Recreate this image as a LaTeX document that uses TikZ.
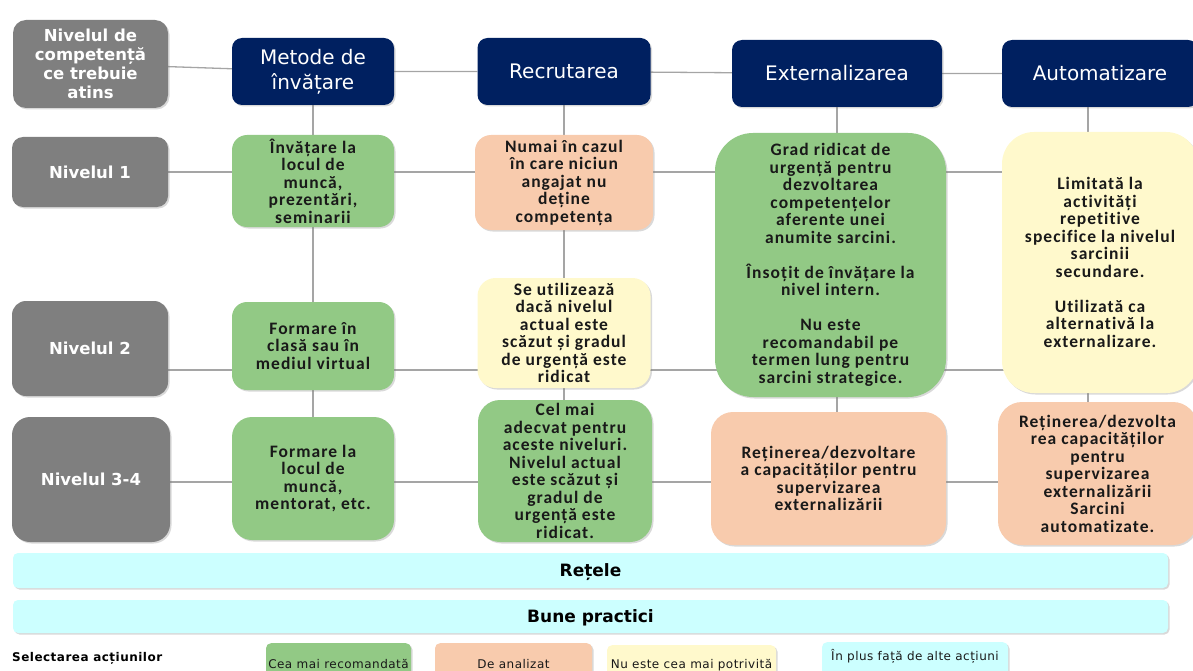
\documentclass[tikz,border=0pt]{standalone}
\usepackage{fontspec}
\setmainfont{DejaVu Sans}
\newfontfamily\cellfont[LetterSpace=6,Ligatures={NoCommon}]{Carlito}
\newfontfamily\legendfont[LetterSpace=4]{DejaVu Sans}
\usetikzlibrary{backgrounds,shadows}

\definecolor{lvlgray}{RGB}{127,127,127}
\definecolor{navy}{RGB}{0,32,96}
\definecolor{recgreen}{RGB}{146,201,133}
\definecolor{analsalmon}{RGB}{248,203,173}
\definecolor{weakyellow}{RGB}{255,249,204}
\definecolor{extracyan}{RGB}{204,255,255}
\definecolor{gridline}{RGB}{165,165,165}

\begin{document}
\begin{tikzpicture}[x=1pt,y=-1pt,
    box/.style={draw=none,align=center,inner sep=0pt,
      drop shadow={opacity=0.3,shadow xshift=1.5pt,shadow yshift=-1.5pt}},
    level node/.style={box,fill=lvlgray,text=white,font=\fontsize{16.5}{19}\selectfont\bfseries},
    head node/.style={box,fill=navy,text=white,rounded corners=10pt,minimum height=67pt,
      font=\fontsize{20}{25}\selectfont},
    cell node/.style={box,text=black!90,font=\cellfont\fontsize{17.5}{17.5}\selectfont\bfseries},
    green cell/.style={cell node,fill=recgreen},
    salmon cell/.style={cell node,fill=analsalmon},
    yellow cell/.style={cell node,fill=weakyellow},
    bar node/.style={box,fill=extracyan,rounded corners=5pt,minimum width=1155pt,text depth=0pt,
      font=\fontsize{17}{20}\selectfont\bfseries},
    legend node/.style={box,anchor=north,rounded corners=5pt,text=black!90,
      font=\legendfont\fontsize{12}{13}\selectfont},
    grid line/.style={draw=gridline,line width=1.3pt}]
  \useasboundingbox (0,0) rectangle (1193,671);

  % levels
  \node[level node,rounded corners=13pt,minimum width=155pt,minimum height=88pt] (lvl0) at (90.5,64) {Nivelul de\\competență\\ce trebuie\\atins};
  \node[level node,rounded corners=11pt,minimum width=156pt,minimum height=70pt] (lvl1) at (90,172) {Nivelul 1};
  \node[level node,rounded corners=14pt,minimum width=156pt,minimum height=95pt] (lvl2) at (90,348.5) {Nivelul 2};
  \node[level node,rounded corners=18pt,minimum width=158pt,minimum height=125pt] (lvl3) at (91,479.5) {Nivelul 3-4};

  % headers
  \node[head node,minimum width=162pt] (hMet) at (313,71.5) {Metode de\\învățare};
  \node[head node,minimum width=173pt] (hRec) at (564,71.5) {Recrutarea};
  \node[head node,minimum width=210pt] (hExt) at (837,73.5) {Externalizarea};
  \node[head node,minimum width=196pt] (hAut) at (1100,73.5) {Automatizare};

  % cells
  \node[green cell,rounded corners=15pt,minimum width=162pt,minimum height=92pt] (m1) at (313,181) {Învățare la\\locul de\\muncă,\\prezentări,\\seminarii};
  \node[salmon cell,rounded corners=16pt,minimum width=178pt,minimum height=95pt] (r1) at (564,182.5) {Numai în cazul\\în care niciun\\angajat nu\\deține\\competența};
  \node[green cell,rounded corners=38pt,minimum width=231pt,minimum height=264pt] (e12) at (830.5,265) {Grad ridicat de\\urgență pentru\\dezvoltarea\\competențelor\\aferente unei\\anumite sarcini.\\[17.5pt]Însoțit de învățare la\\nivel intern.\\[17.5pt]Nu este\\recomandabil pe\\termen lung pentru\\sarcini strategice.};
  \node[yellow cell,rounded corners=32pt,minimum width=196pt,minimum height=261pt] (a12) at (1100,262.5) {Limitată la\\activități\\repetitive\\specifice la nivelul\\sarcinii\\secundare.\\[17.5pt]Utilizată ca\\alternativă la\\externalizare.};
  \node[green cell,rounded corners=15pt,minimum width=162pt,minimum height=88pt] (m2) at (313,346) {Formare în\\clasă sau în\\mediul virtual};
  \node[yellow cell,rounded corners=18pt,minimum width=173pt,minimum height=110pt] (r2) at (564,333) {Se utilizează\\dacă nivelul\\actual este\\scăzut și gradul\\de urgență este\\ridicat};
  \node[green cell,rounded corners=20pt,minimum width=162pt,minimum height=123pt] (m3) at (313,478.5) {Formare la\\locul de\\muncă,\\mentorat, etc.};
  \node[green cell,rounded corners=22pt,minimum width=174pt,minimum height=142pt] (r3) at (565,471) {Cel mai\\adecvat pentru\\aceste niveluri.\\Nivelul actual\\este scăzut și\\gradul de\\urgență este\\ridicat.};
  \node[salmon cell,rounded corners=22pt,minimum width=235pt,minimum height=133pt] (e3) at (828.5,478.5) {Reținerea/dezvoltare\\a capacităților pentru\\supervizarea\\externalizării};
  \node[salmon cell,rounded corners=24pt,minimum width=199pt,minimum height=143pt] (a3) at (1097.5,473.5) {Reținerea/dezvolta\\rea capacităților\\pentru\\supervizarea\\externalizării\\Sarcini\\automatizate.};

  % bars
  \node[bar node,minimum height=35pt] (net) at (590.5,570.5) {Rețele};
  \node[bar node,minimum height=33pt] (bp) at (590.5,616.5) {Bune practici};

  % legend
  \node[anchor=west,inner sep=0pt,font=\legendfont\fontsize{12}{13}\selectfont\bfseries] (sel) at (12,658) {Selectarea acțiunilor};
  \node[legend node,fill=recgreen,minimum width=145pt,minimum height=42pt] (lg1) at (338.5,643) {Cea mai recomandată};
  \node[legend node,fill=analsalmon,minimum width=157pt,minimum height=42pt] (lg2) at (513.5,643) {De analizat};
  \node[legend node,fill=weakyellow,minimum width=169pt,minimum height=40pt] (lg3) at (691.5,645) {Nu este cea mai potrivită};
  \node[legend node,fill=extracyan,minimum width=186pt,minimum height=40pt,text depth=15pt] (lg4) at (915,642) {În plus față de alte acțiuni};

  \coordinate (row2) at (0,370);
  \coordinate (row3) at (0,482);
  \coordinate (colA) at (1088,0);

  \begin{pgfonlayer}{background}
    \draw[grid line] (lvl0) -- (hMet) -- (hRec) -- (hExt) -- (hAut);
    \draw[grid line] (lvl1) -- (lvl1 -| a12);
    \draw[grid line] (lvl2 |- row2) -- (a12 |- row2);
    \draw[grid line] (lvl3 |- row3) -- (a3 |- row3);
    \draw[grid line] (hMet) -- (m3);
    \draw[grid line] (hRec) -- (hRec |- r3);
    \draw[grid line] (hExt) -- (hExt |- e3);
    \draw[grid line] (colA |- hAut) -- (colA |- a3);
  \end{pgfonlayer}
\end{tikzpicture}
\end{document}
